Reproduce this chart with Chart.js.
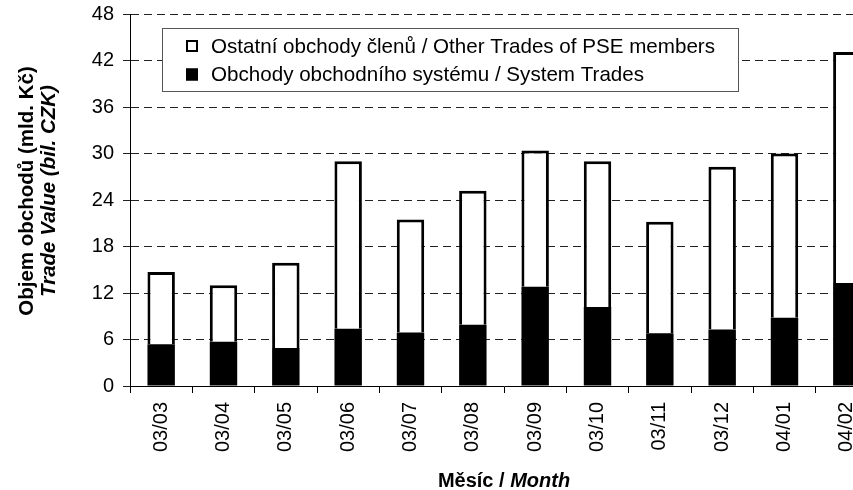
<!DOCTYPE html>
<html>
<head>
<meta charset="utf-8">
<script src="https://cdn.jsdelivr.net/npm/chart.js@4/dist/chart.umd.min.js"></script>
<style>
  html, body { margin: 0; padding: 0; background: #fff; overflow: hidden; }
  #wrap { width: 880px; height: 490px; }
</style>
</head>
<body>
<div id="wrap"><canvas id="c" width="880" height="490"></canvas></div>
<script>
const FONT = "'Liberation Sans', Arial, sans-serif";

const months = ['03/03', '03/04', '03/05', '03/06', '03/07', '03/08', '03/09', '03/10', '03/11', '03/12', '04/01', '04/02'];
const systemTrades = [5.4, 5.7, 4.9, 7.4, 6.9, 7.9, 12.8, 10.2, 6.8, 7.3, 8.8, 13.3];
const otherTrades = [9.3, 7.3, 11.0, 21.6, 14.6, 17.3, 17.6, 18.8, 14.4, 21.0, 21.2, 29.8];
const yTicks = [0, 6, 12, 18, 24, 30, 36, 42, 48];

const labelSystem = 'Obchody obchodního systému / System Trades';
const labelOther = 'Ostatní obchody členů / Other Trades of PSE members';

// legend box inside the plot + the mixed bold / italic axis titles
const decorations = {
  id: 'decorations',
  afterDatasetsDraw(chart) {
    const { ctx, chartArea: a } = chart;
    ctx.save();

    // legend
    const lx = a.left + 32;
    const ly = a.top + 14;
    ctx.fillStyle = '#fff';
    ctx.fillRect(lx, ly, 576, 63);
    ctx.strokeStyle = '#555';
    ctx.lineWidth = 1;
    ctx.strokeRect(lx + 0.5, ly + 0.5, 576, 63);

    const items = chart.data.datasets.slice().reverse();
    ctx.font = '20.6px ' + FONT;
    ctx.textBaseline = 'middle';
    items.forEach((ds, i) => {
      const cy = ly + 18 + i * 28.5;
      ctx.fillStyle = ds.backgroundColor;
      ctx.fillRect(lx + 24, cy - 6, 12, 12);
      ctx.strokeStyle = '#000';
      ctx.lineWidth = 2;
      ctx.strokeRect(lx + 25, cy - 5, 10, 10);
      ctx.fillStyle = '#000';
      ctx.fillText(ds.label, lx + 49, cy + 1);
    });

    // x title
    ctx.fillStyle = '#000';
    ctx.textBaseline = 'alphabetic';
    const partA = 'Měsíc / ';
    const partB = 'Month';
    ctx.font = 'bold 20px ' + FONT;
    const wA = ctx.measureText(partA).width;
    ctx.font = 'italic bold 20px ' + FONT;
    const wB = ctx.measureText(partB).width;
    const cx = (a.left + a.right) / 2;
    const x0 = cx - (wA + wB) / 2;
    ctx.textAlign = 'left';
    ctx.font = 'bold 20px ' + FONT;
    ctx.fillText(partA, x0, 487);
    ctx.font = 'italic bold 20px ' + FONT;
    ctx.fillText(partB, x0 + wA, 487);

    // y title, two rotated lines
    const cyT = (a.top + a.bottom) / 2 - 9;
    ctx.translate(0, cyT);
    ctx.rotate(-Math.PI / 2);
    ctx.textAlign = 'center';
    ctx.textBaseline = 'middle';
    ctx.font = 'bold 20.5px ' + FONT;
    ctx.fillText('Objem obchodů (mld. Kč)', 0, 27);
    ctx.font = 'italic bold 20.5px ' + FONT;
    ctx.fillText('Trade Value (bil. CZK)', 0, 49);

    ctx.restore();
  }
};

const ctx = document.getElementById('c').getContext('2d');

const chart = new Chart(ctx, {
  type: 'bar',
  data: {
    labels: months,
    datasets: [
      {
        label: labelSystem,
        data: systemTrades,
        backgroundColor: '#000',
        borderWidth: 0,
        categoryPercentage: 1,
        barPercentage: 0.44,
      },
      {
        label: labelOther,
        data: otherTrades,
        backgroundColor: '#fff',
        borderColor: '#000',
        borderWidth: 3,
        borderSkipped: 'start',
        categoryPercentage: 1,
        barPercentage: 0.44,
      },
    ],
  },
  options: {
    responsive: false,
    animation: false,
    layout: { padding: { top: 14, right: 2, left: 0, bottom: 0 } },
    plugins: {
      legend: { display: false },
      tooltip: { enabled: false },
    },
    scales: {
      x: {
        stacked: true,
        grid: { drawOnChartArea: false, drawTicks: true, tickLength: 7, color: '#000', offset: true },
        border: { display: true, color: '#000', width: 1 },
        ticks: {
          color: '#000',
          font: { family: FONT, size: 20 },
          minRotation: 90,
          maxRotation: 90,
          autoSkip: false,
          padding: 9,
        },
        afterFit: (s) => { s.height = 104; s.paddingLeft = 0; s.paddingRight = 0; },
      },
      y: {
        stacked: true,
        min: 0,
        max: 48,
        afterBuildTicks: (s) => { s.ticks = yTicks.map(v => ({ value: v })); },
        grid: { color: '#222', lineWidth: 1, tickLength: 7 },
        border: { display: true, color: '#000', width: 1, dash: [8, 5] },
        ticks: {
          color: '#000',
          font: { family: FONT, size: 20 },
          padding: 9,
        },
        afterFit: (s) => { s.width = 130; s.paddingTop = 0; s.paddingBottom = 0; },
      },
    },
  },
  plugins: [decorations],
});
</script>
</body>
</html>
